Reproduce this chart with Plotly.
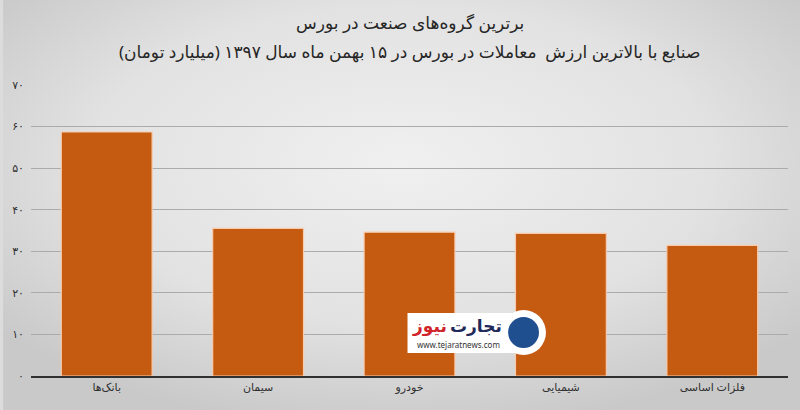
import plotly.graph_objects as go
import base64

categories = ["بانک‌ها", "سیمان", "خودرو", "شیمیایی", "فلزات اساسی"]
values = [58.7, 35.5, 34.6, 34.3, 31.4]
tick_vals = [0, 10, 20, 30, 40, 50, 60, 70]
tick_text = ["۰", "۱۰", "۲۰", "۳۰", "۴۰", "۵۰", "۶۰", "۷۰"]

title_text = "برترین گروه‌های صنعت در بورس"
subtitle_text = "صنایع با بالاترین ارزش  معاملات در بورس در ۱۵ بهمن ماه سال ۱۳۹۷ (میلیارد تومان)"

FONT = "Noto Sans, DejaVu Sans, sans-serif"

svg = """<svg xmlns='http://www.w3.org/2000/svg' width='800' height='410'>
<defs><radialGradient id='g' cx='50%' cy='40%' r='65%'>
<stop offset='0%' stop-color='#f0f0f0'/><stop offset='60%' stop-color='#e2e2e2'/><stop offset='100%' stop-color='#c9c9c9'/>
</radialGradient></defs><rect width='800' height='410' fill='url(#g)'/></svg>"""
bg_uri = "data:image/svg+xml;base64," + base64.b64encode(svg.encode()).decode()

PW, PH = 760, 291
def px(x):
    return (x - 28) / PW
def py(y):
    return (376 - y) / PH

fig = go.Figure()
fig.add_trace(go.Bar(
    x=categories, y=values,
    marker=dict(color="#C55A11", line=dict(color="#F8CBAD", width=1.2)),
    width=0.6,
))

fig.update_layout(
    width=800, height=410,
    margin=dict(l=28, r=12, t=85, b=34),
    paper_bgcolor="#dcdcdc",
    plot_bgcolor="rgba(0,0,0,0)",
    showlegend=False,
    font=dict(family=FONT, color="#404040", size=11),
    images=[dict(source=bg_uri, xref="paper", yref="paper", x=px(0), y=py(0),
                 sizex=800 / PW, sizey=410 / PH, xanchor="left", yanchor="top",
                 sizing="stretch", layer="below")],
    xaxis=dict(showline=True, linecolor="#303030", linewidth=1.5, ticks="",
               tickfont=dict(size=11, color="#303030"), range=[-0.5, 4.5]),
    yaxis=dict(range=[0, 70], tickvals=tick_vals, ticktext=tick_text,
               showgrid=True, gridcolor="#ababab", gridwidth=1, zeroline=False,
               tickfont=dict(size=11, color="#303030"), ticklabelstandoff=6),
    annotations=[
        dict(text=title_text, xref="paper", yref="paper", x=0.5, y=py(22),
             xanchor="center", yanchor="middle", showarrow=False,
             font=dict(size=17, color="#262626", family=FONT)),
        dict(text=subtitle_text, xref="paper", yref="paper", x=0.5, y=py(52),
             xanchor="center", yanchor="middle", showarrow=False,
             font=dict(size=17, color="#262626", family=FONT)),
        dict(text="<b>تجارت</b>",
             xref="paper", yref="paper", x=px(475), y=py(325),
             xanchor="center", yanchor="middle", showarrow=False,
             font=dict(size=17, color="#1f2a5a", family=FONT)),
        dict(text="<b>نیوز</b>",
             xref="paper", yref="paper", x=px(428), y=py(325),
             xanchor="center", yanchor="middle", showarrow=False,
             font=dict(size=17, color="#d0232a", family=FONT)),
        dict(text="www.tejaratnews.com",
             xref="paper", yref="paper", x=px(457), y=py(344),
             xanchor="center", yanchor="middle", showarrow=False,
             font=dict(size=8, color="#333333", family=FONT)),
    ],
    shapes=[
        dict(type="rect", xref="paper", yref="paper",
             x0=px(406), x1=px(522), y0=py(353), y1=py(313),
             fillcolor="white", line=dict(width=0), layer="above"),
        dict(type="circle", xref="paper", yref="paper",
             x0=px(500), x1=px(545), y0=py(355), y1=py(310),
             fillcolor="white", line=dict(width=0), layer="above"),
        dict(type="circle", xref="paper", yref="paper",
             x0=px(507), x1=px(538), y0=py(348), y1=py(317),
             fillcolor="#1f4f8f", line=dict(width=0), layer="above"),
    ],
)

fig.write_html("out.html", config={"displayModeBar": False},
               post_script="document.body.style.margin='0';")
